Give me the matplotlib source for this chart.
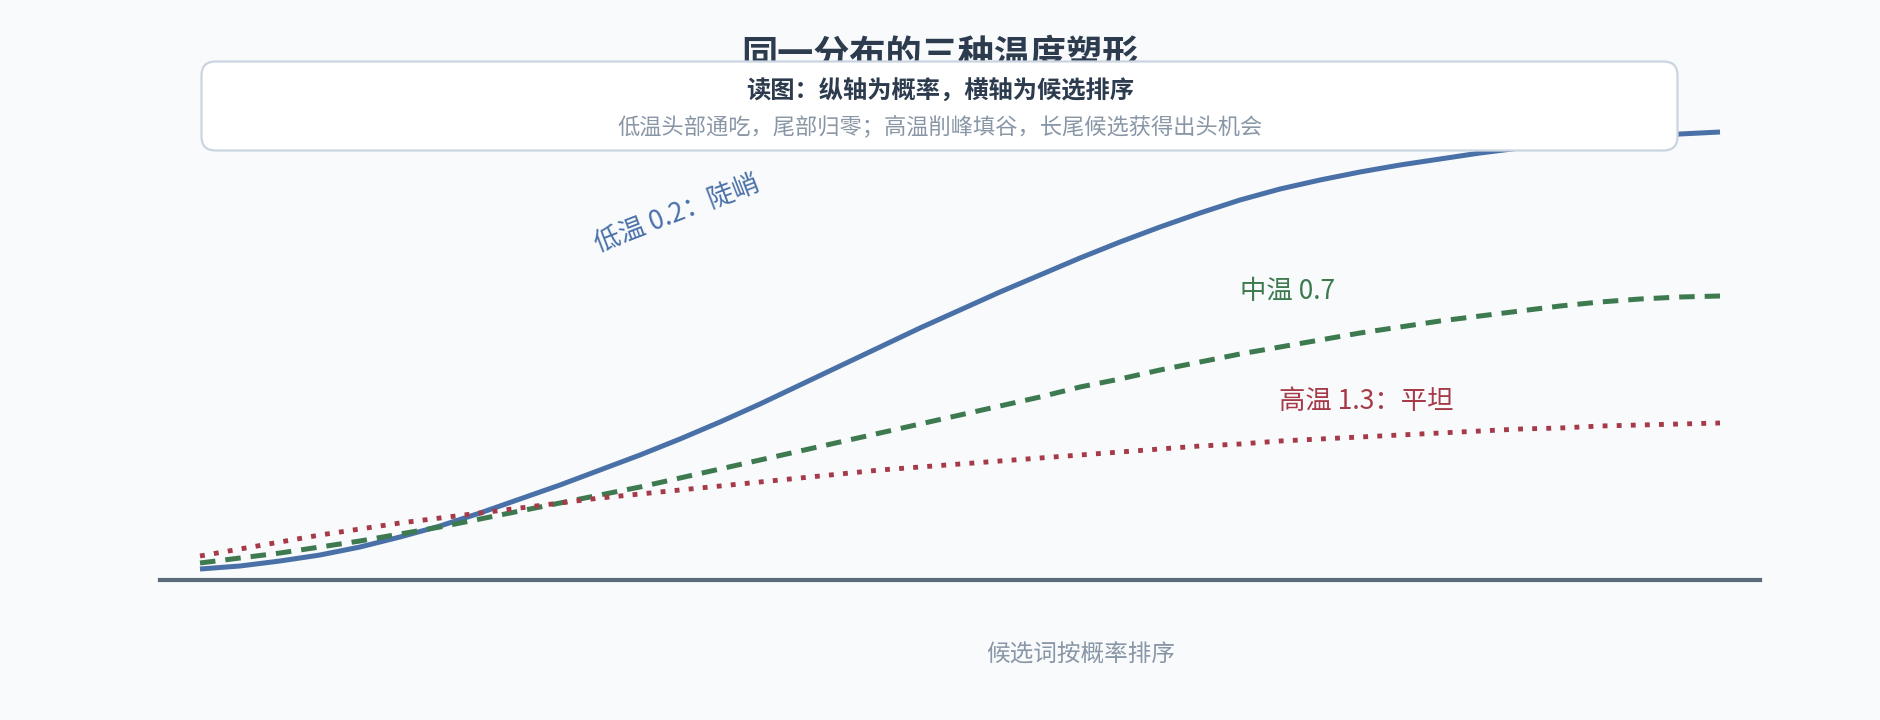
import matplotlib
matplotlib.use("Agg")
import matplotlib.pyplot as plt
from matplotlib.patches import FancyBboxPatch

plt.rcParams['font.family'] = ['Noto Sans CJK SC', 'DejaVu Sans']

# candidate rank (x) and probability for each temperature
ranks = list(range(1, 40))
low_temp = [0.022, 0.028, 0.038, 0.050, 0.066, 0.086, 0.108, 0.134, 0.162, 0.190,
            0.220, 0.250, 0.282, 0.316, 0.352, 0.390, 0.428, 0.466, 0.504, 0.540,
            0.576, 0.610, 0.644, 0.676, 0.706, 0.734, 0.760, 0.782, 0.800, 0.816,
            0.830, 0.842, 0.854, 0.864, 0.872, 0.880, 0.886, 0.892, 0.896]
mid_temp = [0.034, 0.044, 0.054, 0.066, 0.078, 0.092, 0.106, 0.122, 0.138, 0.154,
            0.170, 0.186, 0.204, 0.222, 0.240, 0.258, 0.276, 0.294, 0.312, 0.330,
            0.348, 0.366, 0.386, 0.402, 0.420, 0.436, 0.452, 0.466, 0.480, 0.494,
            0.506, 0.518, 0.528, 0.538, 0.548, 0.556, 0.562, 0.566, 0.568]
high_temp = [0.048, 0.062, 0.076, 0.090, 0.102, 0.114, 0.124, 0.134, 0.144, 0.154,
             0.164, 0.172, 0.180, 0.188, 0.196, 0.204, 0.212, 0.220, 0.226, 0.232,
             0.238, 0.244, 0.250, 0.256, 0.262, 0.268, 0.272, 0.278, 0.282, 0.286,
             0.290, 0.294, 0.298, 0.302, 0.304, 0.308, 0.310, 0.312, 0.314]

labels = ['低温 0.2：陡峭', '中温 0.7', '高温 1.3：平坦']
label_pos = [(12.925, 0.732, 21), (28.2, 0.578, 0), (30.15, 0.358, 0)]

title = '同一分布的三种温度塑形'
note_head = '读图：纵轴为概率，横轴为候选排序'
note_body = '低温头部通吃，尾部归零；高温削峰填谷，长尾候选获得出头机会'
xlabel = '候选词按概率排序'

bg = '#f8fafc'
c_low, c_mid, c_high = '#4a70a8', '#3d7a50', '#a63a48'

fig = plt.figure(figsize=(18.8, 7.2), dpi=100, facecolor=bg)
ax = fig.add_axes([160 / 1880, 140 / 720, 1600 / 1880, 492.8 / 720])
ax.set_facecolor(bg)

ax.plot(ranks, low_temp, color=c_low, lw=3.6, solid_capstyle='butt')
ax.plot(ranks, mid_temp, color=c_mid, lw=3.6, linestyle=(0, (3.1, 2.0)))
ax.plot(ranks, high_temp, color=c_high, lw=3.5, linestyle=(0, (1, 1.9)))

for (lx, ly, rot), txt, col in zip(label_pos, labels, [c_low, c_mid, c_high]):
    ax.text(lx, ly, txt, color=col, fontsize=19, rotation=rot,
            ha='center', va='center', rotation_mode='anchor')

ax.set_xlim(0, 40)
ax.set_ylim(0, 0.9856)
ax.set_xticks([])
ax.set_yticks([])
for s in ['left', 'top', 'right']:
    ax.spines[s].set_visible(False)
ax.spines['bottom'].set_color('#5c6b7a')
ax.spines['bottom'].set_linewidth(3)

ax.set_xlabel(xlabel, fontsize=17, color='#8896a6')
ax.xaxis.set_label_coords(0.5756, -0.152)
ax.xaxis.label.set_va('center')

fig.text(0.5, (720 - 55) / 720, title, fontsize=26, fontweight='bold',
         color='#2d3b4e', ha='center', va='center', zorder=1)

# note box drawn over the title, like the original
box_ax = fig.add_axes([200 / 1880, (720 - 152) / 720, 1479 / 1880, 92 / 720], zorder=5)
box_ax.set_xlim(0, 1479)
box_ax.set_ylim(0, 92)
box_ax.axis('off')
box_ax.patch.set_alpha(0)
box = FancyBboxPatch((1.5, 1.5), 1476, 89, boxstyle='round,pad=0,rounding_size=14',
                     facecolor='white', edgecolor='#cbd5e1', linewidth=1.6, clip_on=False)
box_ax.add_patch(box)
box_ax.text(740, 92 - 32, note_head, fontsize=17.5, fontweight='bold', color='#2d3b4e',
            ha='center', va='center')
box_ax.text(740, 92 - 67, note_body, fontsize=16, color='#8896a6',
            ha='center', va='center')

fig.savefig('out.png', dpi=100, facecolor=bg)
